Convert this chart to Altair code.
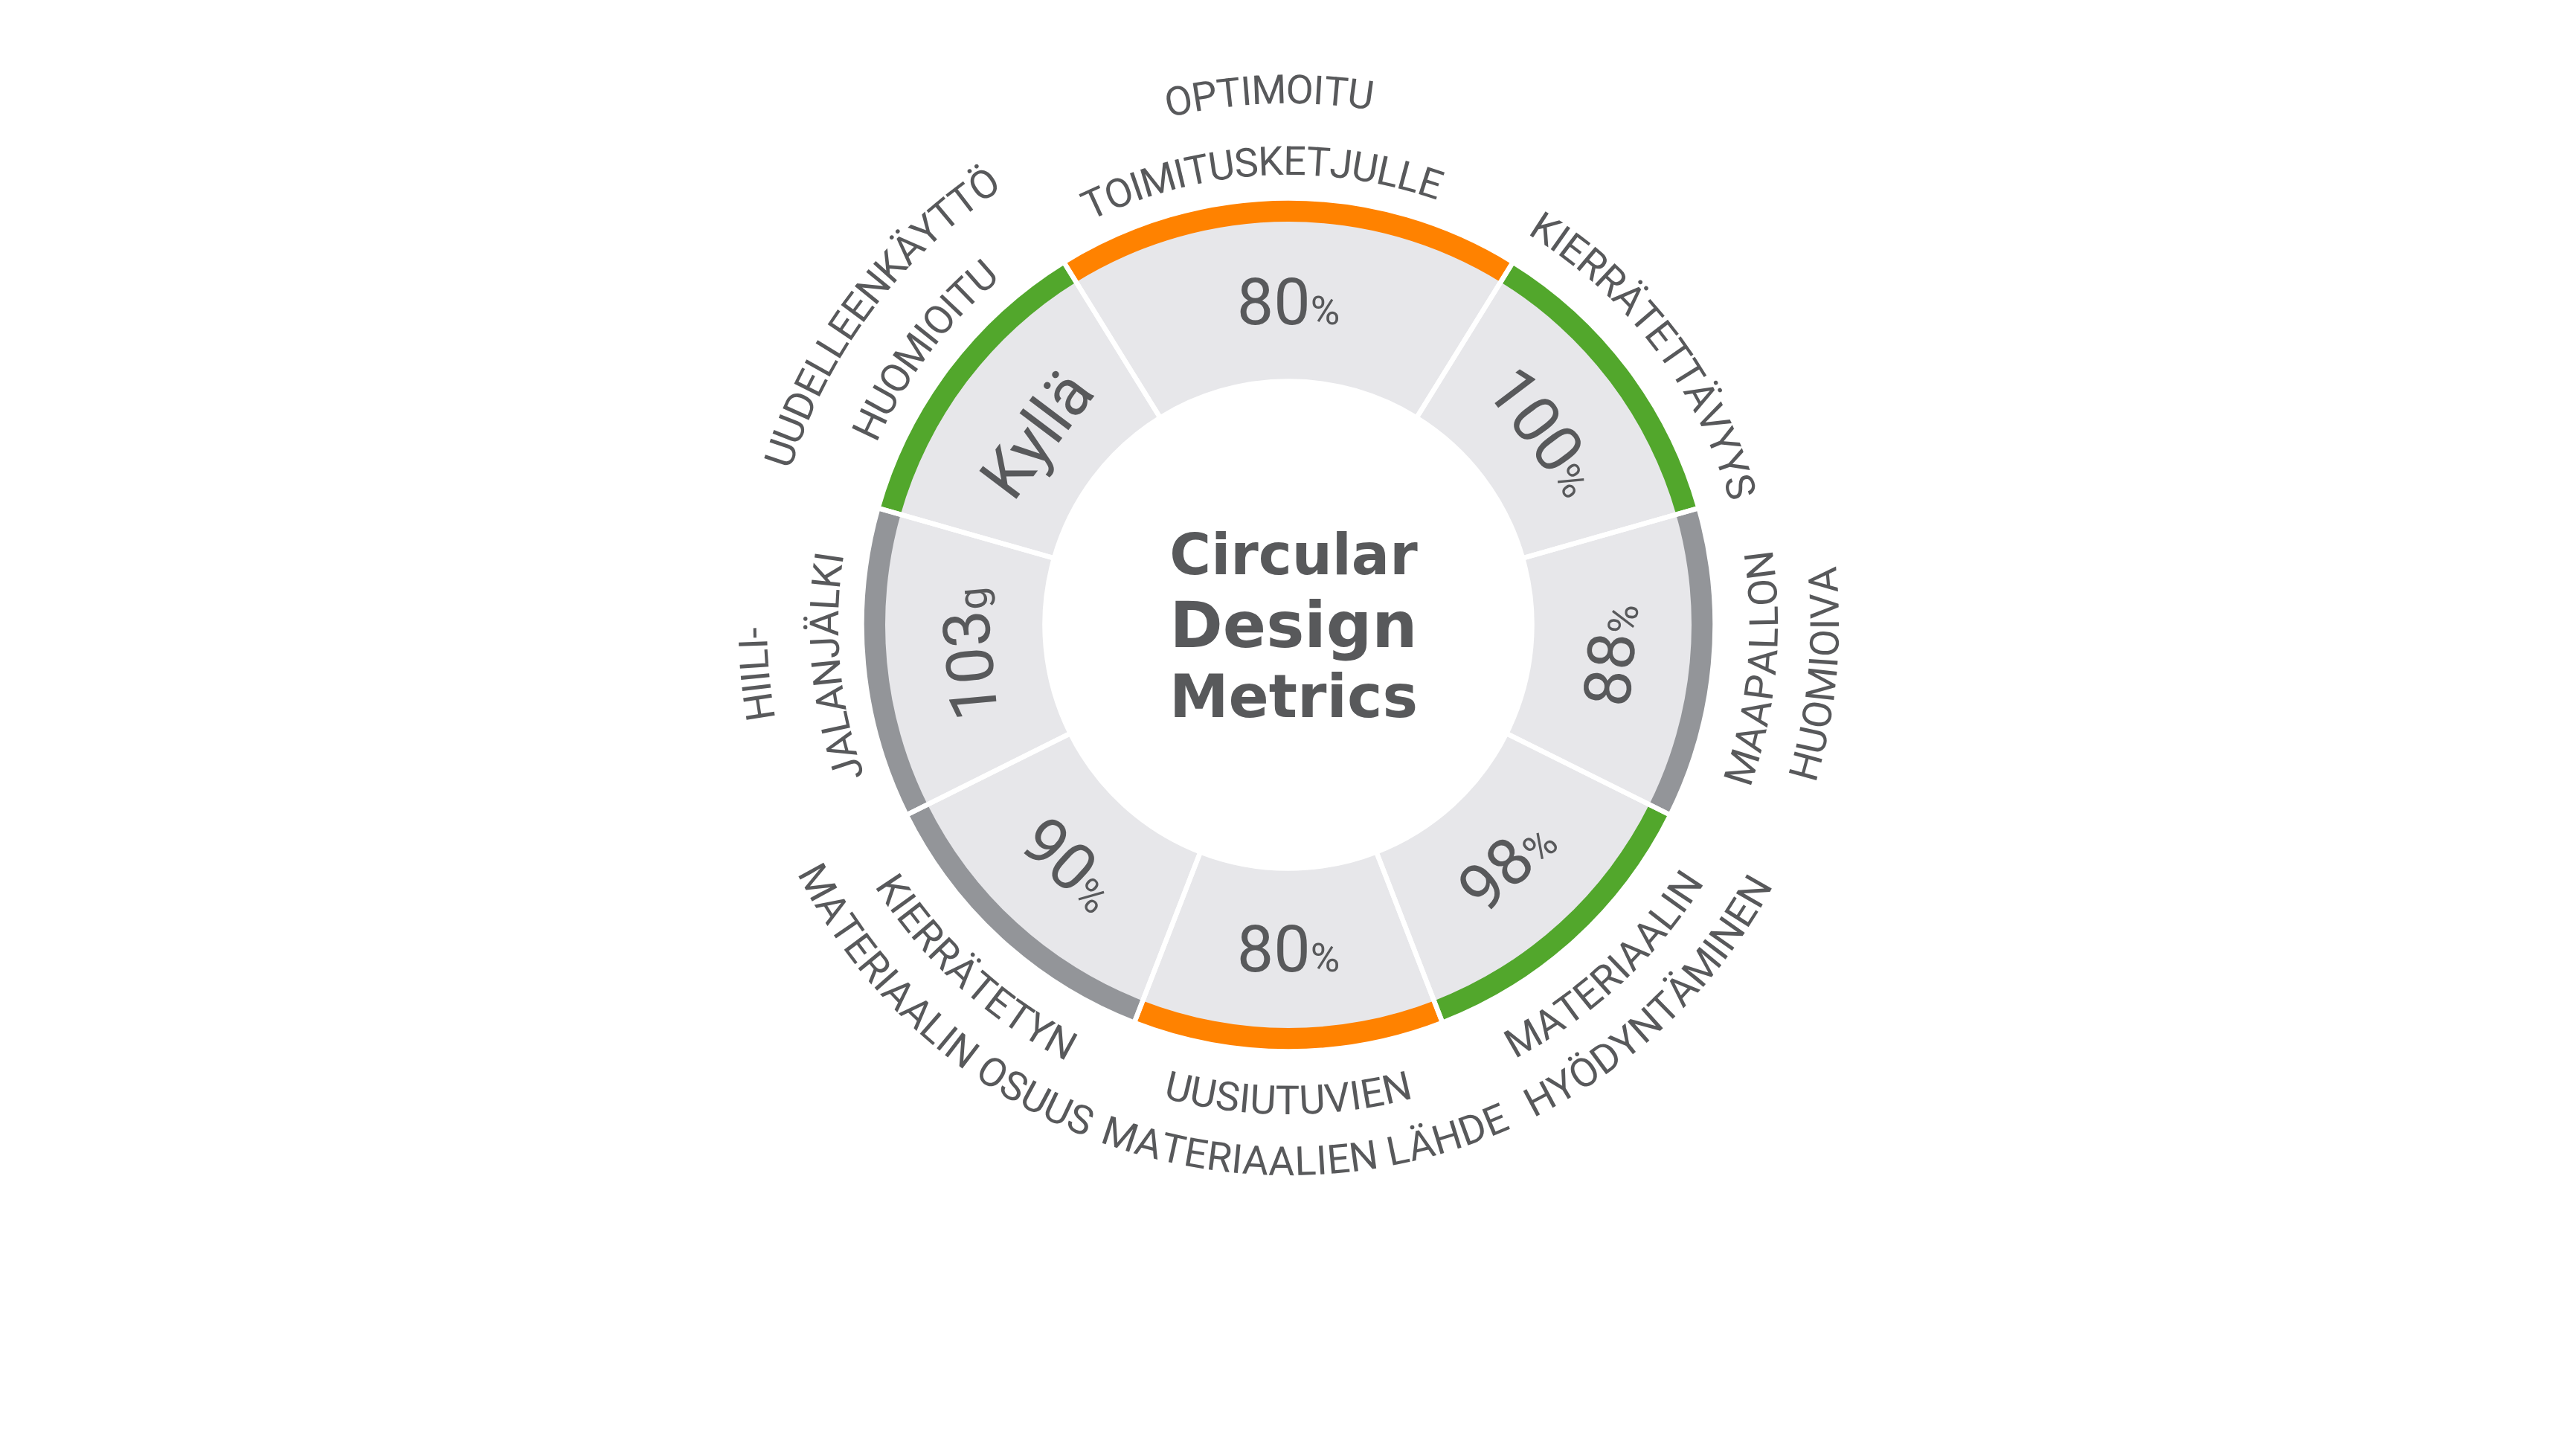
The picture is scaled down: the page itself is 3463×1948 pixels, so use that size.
import math
import altair as alt
import pandas as pd

# ---------------- data ----------------
values = ["80", "100", "88", "98", "80", "90", "103", "Kyllä"]
units = ["%", "%", "%", "%", "%", "%", "g", ""]
spans = [1.5, 1, 1, 1, 1, 1, 1, 1]
tiers = ["B", "A", "C", "A", "B", "C", "C", "A"]
line1 = ["OPTIMOITU", "KIERRÄTETTÄVYYS", "MAAPALLON", "MATERIAALIN",
         "UUSIUTUVIEN", "KIERRÄTETYN", "HIILI-", "UUDELLEENKÄYTTÖ"]
line2 = ["TOIMITUSKETJULLE", "", "HUOMIOIVA", "HYÖDYNTÄMINEN",
         "MATERIAALIEN LÄHDE", "MATERIAALIN OSUUS", "JALANJÄLKI", "HUOMIOITU"]
title_lines = ["Circular", "Design", "Metrics"]

# ---------------- style / layout ----------------
GREEN, ORANGE, GRAY = "#52A72C", "#FF8200", "#939599"
LIGHT = "#E7E7EA"
INK = "#58595B"
CX, CY = 1724, 832
R_IN, R_BAND, R_OUT = 327.5, 542, 573.5
SEP = 6.5
R_VAL = 436
FS_NUM, FS_UNIT, FS_LABEL = 88, 54, 54
CAP = 0.711
R_U_OUT, R_U_IN, R_SINGLE = 717, 621, 632
R_L_IN, R_L_OUT = 642, 724
FONT = "Roboto"
# small shifts (px along the reading direction) of individual label lines
LINE_SHIFT = {(0, 0): -26, (0, 1): -37, (4, 1): 24, (3, 1): 22, (3, 0): 6}

# approximate Roboto advance widths (em)
W = {" ": 0.248, "-": 0.27, "A": 0.652, "Ä": 0.652, "C": 0.651, "D": 0.656,
     "E": 0.568, "H": 0.697, "I": 0.272, "J": 0.552, "K": 0.627, "L": 0.538,
     "M": 0.853, "N": 0.697, "O": 0.672, "Ö": 0.672, "P": 0.631, "R": 0.616,
     "S": 0.594, "T": 0.596, "U": 0.633, "V": 0.636, "Y": 0.601,
     "0": 0.562, "1": 0.562, "2": 0.562, "3": 0.562, "4": 0.562, "5": 0.562,
     "6": 0.562, "7": 0.562, "8": 0.562, "9": 0.562, "%": 0.73, "g": 0.56,
     "y": 0.487, "l": 0.242, "ä": 0.543}


def wid(s):
    return sum(W.get(c, 0.6) for c in s)


n = len(values)
total = sum(spans)
dpu = 360.0 / total
start = -spans[0] / 2 * dpu
seg_rows = []
for i in range(n):
    end = start + spans[i] * dpu
    mid = (start + end) / 2
    seg_rows.append(dict(seg=i, t0=start, t1=end, mid=mid, tier=tiers[i]))
    start = end
seg = pd.DataFrame(seg_rows)

# value labels
num_rows, unit_rows = [], []
for i in range(n):
    mid = seg_rows[i]["mid"]
    flip = 90 < mid < 260
    wn = wid(values[i]) * FS_NUM
    wu = wid(units[i]) * FS_UNIT
    off = (wn - wu) / 2
    rb = R_VAL + CAP * FS_NUM / 2 if flip else R_VAL - CAP * FS_NUM / 2
    d = math.degrees(off / rb)
    th = mid - d if flip else mid + d
    rot = ((mid - 180) if flip else mid) % 360
    num_rows.append(dict(txt=values[i], theta=th, r=rb, rot=rot))
    if units[i]:
        unit_rows.append(dict(txt=units[i], theta=th, r=rb, rot=rot))
nums = pd.DataFrame(num_rows)
unitdf = pd.DataFrame(unit_rows)

# curved outer labels, one glyph per row
char_rows = []
for i in range(n):
    mid = seg_rows[i]["mid"]
    flip = 90 < mid < 260
    lines = [line1[i]] + ([line2[i]] if line2[i] else [])
    if len(lines) == 1:
        radii = [R_SINGLE]
    elif flip:
        radii = [R_L_IN, R_L_OUT]
    else:
        radii = [R_U_OUT, R_U_IN]
    for j, (text, r) in enumerate(zip(lines, radii)):
        L = wid(text) * FS_LABEL
        s = LINE_SHIFT.get((i, j), 0)
        for c in text:
            w = W.get(c, 0.6) * FS_LABEL
            sc = s + w / 2 - L / 2
            s += w
            if c == " ":
                continue
            d = math.degrees(sc / r)
            th = mid - d if flip else mid + d
            rot = ((th - 180) if flip else th) % 360
            char_rows.append(dict(ch=c, theta=th, r=r, rot=rot))
chars = pd.DataFrame(char_rows)

TH = alt.Scale(domain=[0, 360], range=[0, 2 * math.pi])
RS = alt.Scale(type="linear", domain=[0, 1000], range=[0, 1000])
AS = alt.Scale(domain=[0, 360], range=[0, 360])
pos = dict(x=alt.value(CX), y=alt.value(CY))

ring = alt.Chart(seg).mark_arc(innerRadius=538, outerRadius=R_OUT).encode(
    theta=alt.Theta("t0:Q", scale=TH, stack=False),
    theta2="t1:Q",
    color=alt.Color("tier:N", scale=alt.Scale(domain=["A", "B", "C"],
                                              range=[GREEN, ORANGE, GRAY]),
                    legend=None),
    **pos)

band = alt.Chart(seg).mark_arc(innerRadius=R_IN, outerRadius=R_BAND,
                               color=LIGHT).encode(
    theta=alt.Theta("t0:Q", scale=TH, stack=False),
    theta2="t1:Q", **pos)

seps = alt.Chart(seg).mark_arc(innerRadius=R_IN, outerRadius=R_OUT,
                               fillOpacity=0, stroke="white",
                               strokeWidth=SEP).encode(
    theta=alt.Theta("t0:Q", scale=TH, stack=False),
    theta2="t1:Q", **pos)

num_text = alt.Chart(nums).mark_text(font=FONT, fontSize=FS_NUM, color=INK,
                                     align="right", baseline="alphabetic").encode(
    theta=alt.Theta("theta:Q", scale=TH, stack=False),
    radius=alt.Radius("r:Q", scale=RS),
    angle=alt.Angle("rot:Q", scale=AS),
    text="txt:N", **pos)

unit_text = alt.Chart(unitdf).mark_text(font=FONT, fontSize=FS_UNIT, color=INK,
                                        align="left", baseline="alphabetic").encode(
    theta=alt.Theta("theta:Q", scale=TH, stack=False),
    radius=alt.Radius("r:Q", scale=RS),
    angle=alt.Angle("rot:Q", scale=AS),
    text="txt:N", **pos)

label_text = alt.Chart(chars).mark_text(font=FONT, fontSize=FS_LABEL, color=INK,
                                        align="center", baseline="middle").encode(
    theta=alt.Theta("theta:Q", scale=TH, stack=False),
    radius=alt.Radius("r:Q", scale=RS),
    angle=alt.Angle("rot:Q", scale=AS),
    text="ch:N", **pos)

t_sizes = [76, 86, 80]
t_dy = [-68, 30, 124]
titles = []
for txt, fs, dy in zip(title_lines, t_sizes, t_dy):
    titles.append(
        alt.Chart(pd.DataFrame({"t": [txt]})).mark_text(
            font="DejaVu Sans", fontWeight="bold", fontSize=fs, color=INK,
            align="center", baseline="alphabetic", dy=dy).encode(
            x=alt.value(CX + 7), y=alt.value(CY), text="t:N"))

chart = alt.layer(ring, band, seps, num_text, unit_text, label_text, *titles).properties(
    width=3440, height=1900, padding=0,
    autosize=alt.AutoSizeParams(type="none"),
    background="white",
).configure_view(strokeWidth=0)

chart.save("out.html", embed_options={"renderer": "svg", "actions": False})
